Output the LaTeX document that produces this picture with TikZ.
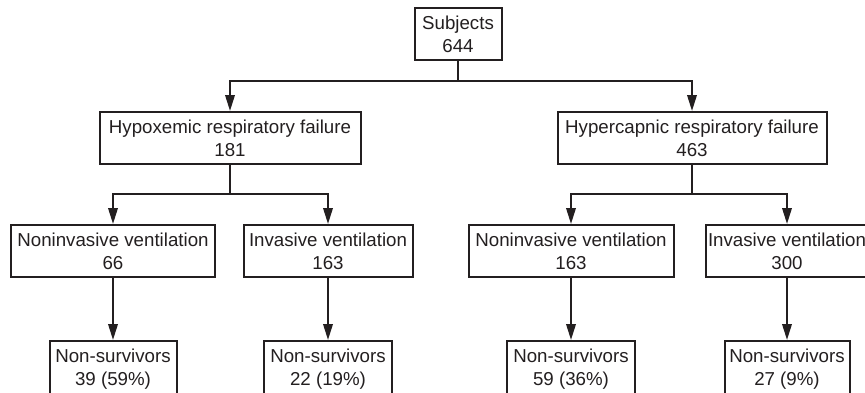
\documentclass[tikz,border=0pt]{standalone}
\usepackage{fontspec}
\setmainfont{Liberation Sans}
\usetikzlibrary{arrows.meta}
\definecolor{ink}{HTML}{231F20}
\tikzset{
  box/.style={draw=ink,line width=2pt,fill=white,align=center,inner sep=0pt,
    minimum height=52pt,text=ink,font=\fontsize{18.7}{23}\selectfont},
  link/.style={draw=ink,line width=2pt},
  arr/.style={link,-{Triangle[length=16pt,width=9.5pt]}}
}
\begin{document}
\begin{tikzpicture}[x=1pt,y=-1pt]
\useasboundingbox (0,0) rectangle (865,392);
\clip (0,0) rectangle (865,392);
\node (subj) at (458,34) [box,minimum width=87pt] {Subjects\\644};
\node (hypox) at (230,138) [box,minimum width=261pt] {Hypoxemic respiratory failure\\181};
\node (hyperc) at (692,138) [box,minimum width=269pt] {Hypercapnic respiratory failure\\463};
\node (nivl) at (113,251) [box,minimum width=204pt] {Noninvasive ventilation\\66};
\node (ivl) at (328,251) [box,minimum width=169pt] {Invasive ventilation\\163};
\node (nivr) at (571,251) [box,minimum width=205pt] {Noninvasive ventilation\\163};
\node (ivr) at (787,251) [box,minimum width=162pt] {Invasive ventilation\\300};
\node (ns1) at (113,369) [box,minimum width=127pt,minimum height=56pt] {Non-survivors\\39 (59\%)};
\node (ns2) at (328,369) [box,minimum width=128pt,minimum height=56pt] {Non-survivors\\22 (19\%)};
\node (ns3) at (571,369) [box,minimum width=128pt,minimum height=56pt] {Non-survivors\\59 (36\%)};
\node (ns4) at (787,369) [box,minimum width=125pt,minimum height=56pt] {Non-survivors\\27 (9\%)};
\coordinate (topj) at (458,81);
\coordinate (leftj) at (230,194);
\coordinate (rightj) at (692,194);
\draw [link] (subj) -- (topj);
\draw [arr] (topj) -| (hypox);
\draw [arr] (topj) -| (hyperc);
\draw [link] (hypox) -- (leftj);
\draw [arr] (leftj) -| (nivl);
\draw [arr] (leftj) -| (ivl);
\draw [link] (hyperc) -- (rightj);
\draw [arr] (rightj) -| (nivr);
\draw [arr] (rightj) -| (ivr);
\draw [arr] (nivl) -- (ns1);
\draw [arr] (ivl) -- (ns2);
\draw [arr] (nivr) -- (ns3);
\draw [arr] (ivr) -- (ns4);
\end{tikzpicture}
\end{document}
